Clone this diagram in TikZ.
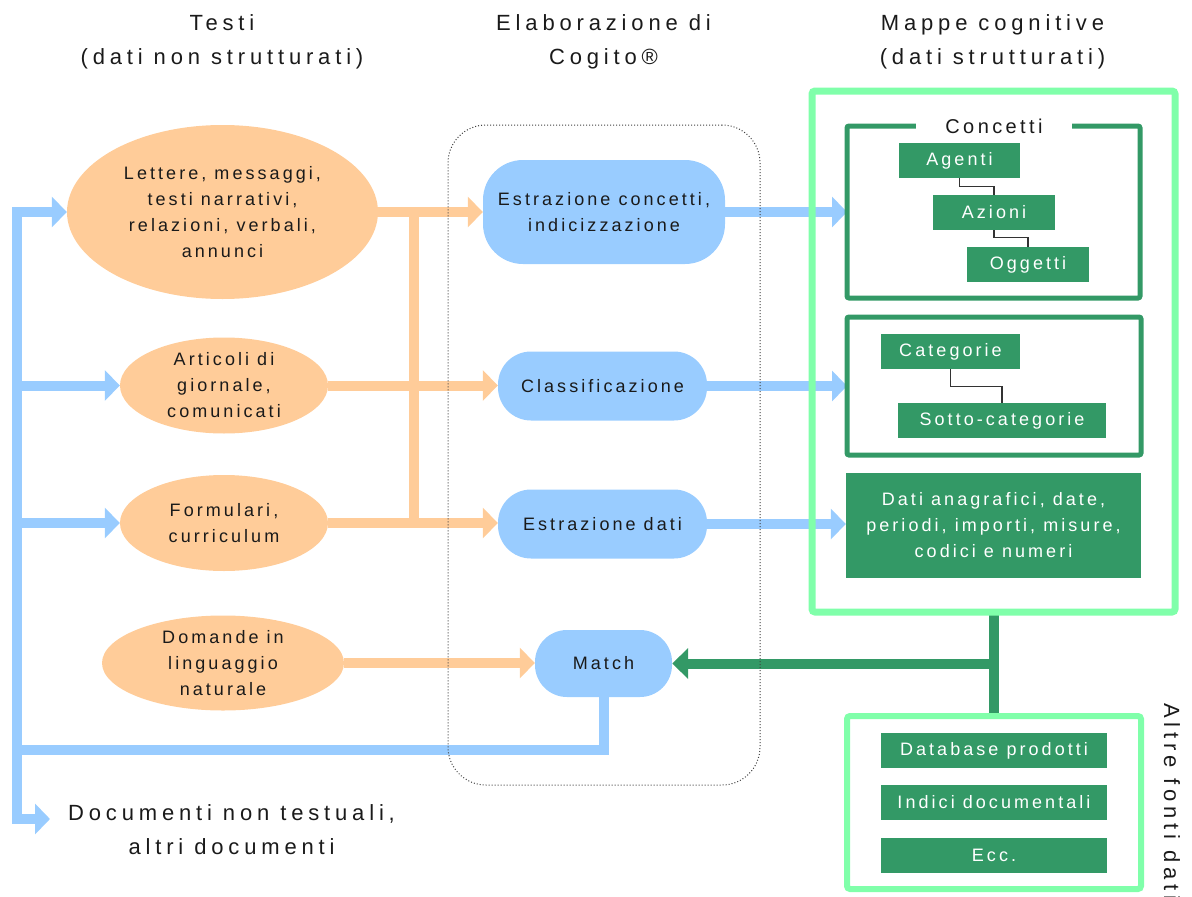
\documentclass[tikz,border=0pt]{standalone}
\usepackage{fontspec}
\setmainfont{Liberation Sans}[LetterSpace=17]
\newfontfamily\hfont{Liberation Sans}[LetterSpace=22]
\usetikzlibrary{arrows.meta,shapes.geometric}
\pgfdeclarelayer{bg}
\pgfsetlayers{bg,main}
\definecolor{orangef}{HTML}{FFCC99}
\definecolor{bluef}{HTML}{99CCFF}
\definecolor{dgreen}{HTML}{339966}
\definecolor{lgreen}{HTML}{80FFAA}
\definecolor{txt}{HTML}{1A1A1A}
\definecolor{conn}{HTML}{333333}
\newcommand{\bodyfs}{\fontsize{18pt}{26pt}\selectfont}
\newcommand{\headfs}{\hfont\fontsize{22pt}{34pt}\selectfont}
\begin{document}
\begin{tikzpicture}[x=1pt,y=-1pt,
  head/.style={align=center, text=txt, font=\headfs, inner sep=0pt},
  ell/.style={ellipse, fill=orangef, inner sep=0pt},
  etext/.style={align=center, text=txt, font=\bodyfs, inner sep=0pt},
  pill/.style={rectangle, fill=bluef, inner sep=0pt, align=center, text=txt, font=\bodyfs},
  gbox/.style={rectangle, fill=dgreen, text=white, inner sep=0pt, font=\bodyfs, minimum height=35pt},
  dframe/.style={rectangle, draw=dgreen, line width=5pt, rounded corners=2pt, outer sep=0pt},
  lframe/.style={rectangle, draw=lgreen, rounded corners=3pt, outer sep=0pt},
  tip/.style={-{Triangle[length=15pt,width=30pt]}},
  barrow/.style={draw=bluef, line width=10pt, line join=miter, tip},
  bline/.style={draw=bluef, line width=10pt, line join=miter},
  oarrow/.style={draw=orangef, line width=10pt, tip},
  oline/.style={draw=orangef, line width=10pt},
  gline/.style={draw=dgreen, line width=10pt},
  garrow/.style={draw=dgreen, line width=10pt, -{Triangle[length=16pt,width=30pt]}},
  thinc/.style={draw=conn, line width=1.2pt}
]
\useasboundingbox (0,0) rectangle (1192,897);
\clip (0,0) rectangle (1192,897);

% headers
\node[head] (h1) at (222,42) {Testi\\(dati non strutturati)};
\node[head] (h2) at (603.5,42) {Elaborazione di\\Cogito®};
\node[head] (h3) at (992.5,42) {Mappe cognitive\\(dati strutturati)};

% ellipses
\node[ell, minimum width=311pt, minimum height=174pt] (e1) at (222.5,212) {};
\node[etext] (e1t) at (e1) {Lettere, messaggi,\\testi narrativi,\\relazioni, verbali,\\annunci};
\node[ell, minimum width=208pt, minimum height=96pt] (e2) at (224,385.5) {};
\node[etext] (e2t) at (e2) {Articoli di\\giornale,\\comunicati};
\node[ell, minimum width=208pt, minimum height=96pt] (e3) at (224,523) {};
\node[etext] (e3t) at (e3) {Formulari,\\curriculum};
\node[ell, minimum width=242pt, minimum height=95pt] (e4) at (223,663) {};
\node[etext] (e4t) at (e4) {Domande in\\linguaggio\\naturale};

% pills
\node[pill, minimum width=242pt, minimum height=104pt, rounded corners=40pt] (ec) at (604,212) {Estrazione concetti,\\indicizzazione};
\node[pill, minimum width=209pt, minimum height=69pt, rounded corners=33pt] (cl) at (602.5,386) {Classificazione};
\node[pill, minimum width=209pt, minimum height=69pt, rounded corners=33pt] (ed) at (602.5,524) {Estrazione dati};
\node[pill, minimum width=137pt, minimum height=67pt, rounded corners=32pt] (match) at (603.5,663.5) {Match};

% cogito frame
\node[rectangle, draw=black!75, line width=1pt, dash pattern=on 1pt off 2pt, rounded corners=38pt, minimum width=312pt, minimum height=660pt] (cogito) at (604,455) {};

% right side
\node[lframe, line width=7pt, minimum width=363pt, minimum height=521pt] (mappe) at (993.5,351.5) {};
\node[dframe, minimum width=293pt, minimum height=172pt] (conc) at (993.5,212) {};
\node[fill=white, inner sep=0pt, minimum width=156pt, minimum height=12pt, text=txt, font=\fontsize{20pt}{24pt}\selectfont] (conclab) at (994,126) {Concetti};
\node[gbox, minimum width=121pt] (agenti) at (959.5,160.5) {Agenti};
\node[gbox, minimum width=122pt] (azioni) at (994,212.5) {Azioni};
\node[gbox, minimum width=122pt] (oggetti) at (1028,264.5) {Oggetti};
\draw[thinc] (agenti.south) -- ++(0,8) -| (azioni.north);
\draw[thinc] (azioni.south) -- ++(0,7) -| (oggetti.north);

\node[dframe, minimum width=294pt, minimum height=138pt] (cat) at (994,386) {};
\node[gbox, minimum width=139pt] (categorie) at (950.5,351.5) {Categorie};
\node[gbox, minimum width=208pt] (sotto) at (1002,420.5) {Sotto-categorie};
\draw[thinc] (categorie.south) -- ++(0,17) -| (sotto.north);

\node[gbox, minimum width=295pt, minimum height=105pt, align=center] (dati) at (993.5,525.5) {Dati anagrafici, date,\\periodi, importi, misure,\\codici e numeri};

\node[lframe, line width=6pt, minimum width=294pt, minimum height=173pt] (altri) at (994,802.5) {};
\node[gbox, minimum width=226pt] (db) at (994,750.5) {Database prodotti};
\node[gbox, minimum width=226pt] (idx) at (994,802.5) {Indici documentali};
\node[gbox, minimum width=226pt] (ecc) at (994,855.5) {Ecc.};
\node[head, rotate=-90, anchor=base west] (altre) at (1164,703) {Altre fonti dati};

% bottom-left text
\node[head, anchor=west, inner xsep=18pt] (docs) at (50,830) {Documenti non testuali,\\altri documenti};

% connectors
\begin{pgfonlayer}{bg}
\coordinate (ltop) at (16.5,212);
\coordinate (lbot) at (16.5,819);
\coordinate (l2) at (ltop |- e2.west);
\coordinate (l3) at (ltop |- e3.west);
\coordinate (lmid) at (16.5,750);
\draw[barrow] (lbot) -- (ltop) -- (e1.west);
\draw[barrow] (l2) -- (e2.west);
\draw[barrow] (l3) -- (e3.west);
\draw[barrow] (ltop) -- (lbot) -- (lbot -| docs.west);
\draw[bline] (match.south) |- (lmid);

\draw[oarrow] (e1.east) -- (e1.east -| ec.west);
\draw[oarrow] (e2.east) -- (e2.east -| cl.west);
\draw[oarrow] (e3.east) -- (e3.east -| ed.west);
\draw[oarrow] (e4.east) -- (e4.east -| match.west);
\coordinate (oj1) at (414,212);
\coordinate (oj3) at (414,523);
\draw[oline] (oj1) -- (oj3);

\draw[barrow] (ec.east) -- (ec.east -| conc.west);
\draw[barrow] (cl.east) -- (cl.east -| cat.west);
\draw[barrow] (ed.east) -- (ed.east -| dati.west);

\draw[gline] (mappe.south) -- (mappe.south |- altri.north);
\coordinate (gj) at (993.5,663.5);
\draw[garrow] (gj) -- (gj -| match.east);
\end{pgfonlayer}
\end{tikzpicture}
\end{document}
